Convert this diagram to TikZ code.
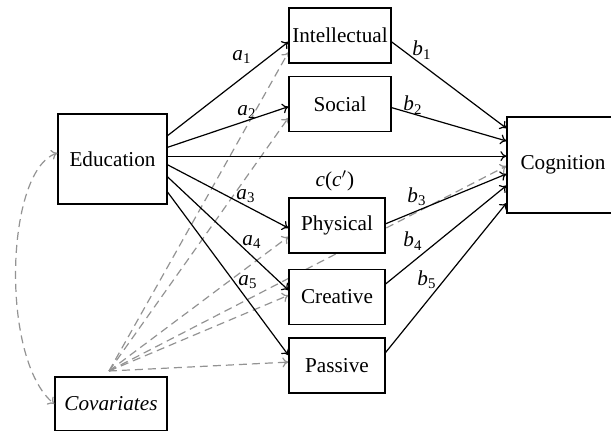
\documentclass[tikz,border=0pt]{standalone}
\usepackage{fontspec}
\setmainfont{Liberation Serif}
\usepackage{tikz}
\usetikzlibrary{backgrounds,arrows.meta}

\newcommand{\coef}[2]{\textit{#1}\textsubscript{#2}}

\begin{document}
\begin{tikzpicture}
      [ x = .5pt, y = -.5pt
      , > = {To[length=3pt, width=5pt]}
      , every node/.style =
        { font=\fontsize{10.6}{12.5}\selectfont }
      , box/.style =
        { draw, fill=white, line width=.6pt, inner sep=0pt }
      , wide/.style =
        { box, minimum width=51pt, minimum height=27.5pt }
      , narrow/.style =
        { box, minimum width=48pt, minimum height=27.5pt }
      , path/.style =
        { ->, line width=.6pt }
      , control/.style =
        { ->, gray!85, line width=.6pt, dash pattern=on 4pt off 2.5pt }
      ]
      \useasboundingbox (0, 0) rectangle (611, 430);
      \node [box, minimum width=54.5pt, minimum height=45pt] (edu) at (112.5, 159) {Education};
      \node [box, minimum width=56pt, minimum height=48pt] (cog) at (563, 165) {Cognition};
      \node [box, minimum width=56pt, minimum height=27pt] (cov) at (111, 404) {\textit{Covariates}};
      \node [wide] (intel) at (340, 35.5) {Intellectual};
      \node [wide] (social) at (340, 104) {Social};
      \node [narrow] (phys) at (337, 225.5) {Physical};
      \node [narrow] (creat) at (337, 297) {Creative};
      \node [narrow] (pass) at (337, 365.5) {Passive};
      \coordinate (hub) at (109, 371);
      % covariates
      \begin{scope}[on background layer]
      \draw [control] (hub) to (intel.198);
      \draw [control] (hub) to (social.195);
      \draw [control] (hub) to (phys.193);
      \draw [control] (hub) to (creat.178);
      \draw [control] (hub) to (pass.176);
      \draw [control] (hub) to (cog.181);
      \end{scope}
      \draw [control, <->] ([yshift=3pt]edu.west) .. controls (5, 170) and (0, 360) .. (cov.west);
      % a paths
      \draw [path] (edu.23) to (intel.187);
      \draw [path] (edu.12) to (social.183);
      \draw [path] (edu.-6) to (phys.183);
      \draw [path] (edu.-18) to (creat.172);
      \draw [path] (edu.-31) to (pass.168);
      % direct path
      \draw [path] (edu.3) to (edu.3 -| cog.west);
      % b paths
      \draw [path] (intel.-7) to (cog.147);
      \draw [path] (social.-4) to (cog.157);
      \draw [path] (phys.2) to (cog.189);
      \draw [path] (creat.15) to (cog.200);
      \draw [path] (pass.15) to (cog.214);
      % labels
      \node (a1) at (242, 57) {\coef{a}{1}};
      \node (a2) at (247, 112) {\coef{a}{2}};
      \node (a3) at (246, 196) {\coef{a}{3}};
      \node (a4) at (252, 242) {\coef{a}{4}};
      \node (a5) at (248, 282) {\coef{a}{5}};
      \node (b1) at (422, 50) {\coef{b}{1}};
      \node (b2) at (413, 105) {\coef{b}{2}};
      \node (b3) at (417, 197) {\coef{b}{3}};
      \node (b4) at (413, 241) {\coef{b}{4}};
      \node (b5) at (427, 280) {\coef{b}{5}};
      \node (c) at (335, 181) {\textit{c}(\textit{c}$'$)};
    \end{tikzpicture}
\end{document}
